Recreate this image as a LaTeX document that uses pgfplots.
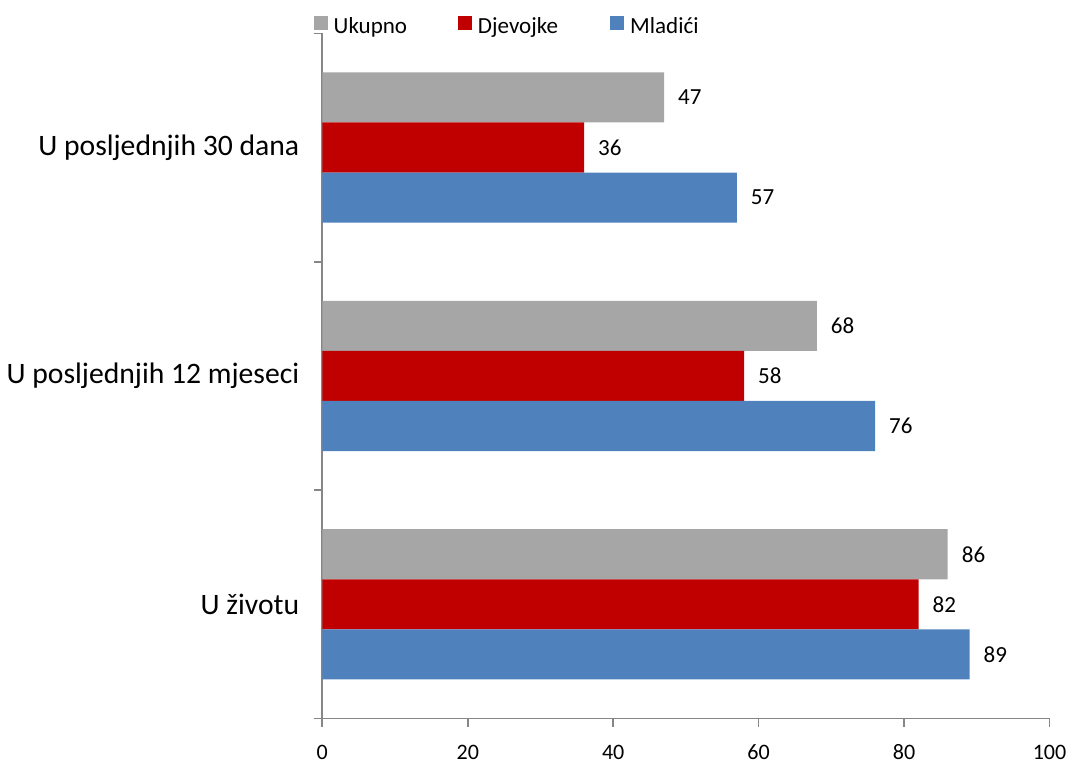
\documentclass[border=0pt]{standalone}
\usepackage{fontspec}
\setmainfont{Carlito}
\usepackage{pgfplots}
\pgfplotsset{compat=1.18}
\definecolor{cGray}{HTML}{A6A6A6}
\definecolor{cRed}{HTML}{C00000}
\definecolor{cBlue}{HTML}{4F81BD}
\definecolor{axisgray}{HTML}{868686}
\begin{document}
\begin{tikzpicture}
\begin{axis}[
  scale only axis, width=363pt, height=342pt,
  xbar, bar width=25pt,
  xmin=0, xmax=100, ymin=-0.5, ymax=2.5,
  axis x line*=bottom, axis y line*=left,
  x axis line style={-, draw=axisgray, line width=0.8pt},
  y axis line style={-, draw=axisgray, line width=0.8pt},
  tick align=outside, major tick length=4pt,
  tick style={draw=axisgray, line width=0.8pt},
  xtick={0,20,...,100},
  xticklabel style={font=\fontsize{11}{13}\selectfont, inner ysep=1.5pt, yshift=-7.4pt},
  /pgf/number format/assume math mode=true,
  ytick={-0.5,0.5,1.5,2.5}, yticklabels={},
  extra y ticks={0,1,2},
  extra y tick labels={U životu, U posljednjih 12 mjeseci, U posljednjih 30 dana},
  extra y tick style={major tick length=0pt, yticklabel style={font=\fontsize{14.8}{17}\selectfont, xshift=-8pt}},
  nodes near coords,
  every node near coord/.append style={font=\fontsize{11.5}{13}\selectfont, anchor=west, xshift=3.5pt, text=black},
  legend columns=3,
  legend style={at={(-0.0124,1)}, anchor=south west, draw=none, fill=none,
    inner xsep=0pt, inner ysep=8pt, yshift=-9.8pt,
    font=\fontsize{11.5}{13}\selectfont,
    nodes={inner sep=0pt},
    /tikz/every odd column/.append style={column sep=3pt}},
  legend image code/.code={\fill[#1, draw=none] (0pt,-1.5pt) rectangle (7pt,5.5pt);},
]
\addplot[fill=cGray, draw=none, bar shift=25pt] coordinates {(86,0) (68,1) (47,2)};
\addlegendentry{\makebox[62pt][l]{Ukupno}}
\addplot[fill=cRed, draw=none, bar shift=0pt] coordinates {(82,0) (58,1) (36,2)};
\addlegendentry{\makebox[66pt][l]{Djevojke}}
\addplot[fill=cBlue, draw=none, bar shift=-25pt] coordinates {(89,0) (76,1) (57,2)};
\addlegendentry{Mladići}
\end{axis}
\end{tikzpicture}
\end{document}
